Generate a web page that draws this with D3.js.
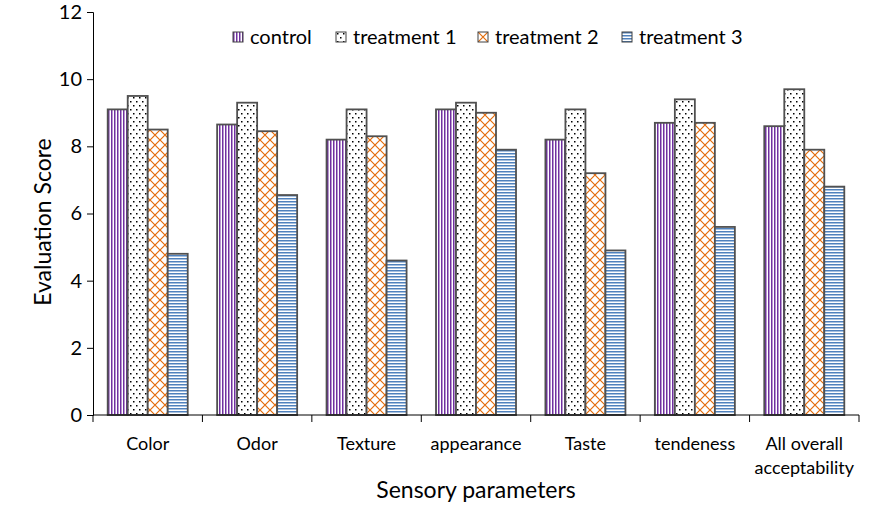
<!DOCTYPE html>
<html><head><meta charset="utf-8">
<script src="https://cdn.jsdelivr.net/npm/d3@7"></script>
<style>body{margin:0;background:#fff;} svg{display:block;} text{font-family:Lato,"Open Sans",sans-serif;fill:#000;}</style>
</head><body><svg id="c" width="885" height="519"></svg>
<script>
const categories = ["Color","Odor","Texture","appearance","Taste","tendeness","All overall acceptability"];
const seriesNames = ["control","treatment 1","treatment 2","treatment 3"];
const control = [9.1, 8.65, 8.2, 9.1, 8.2, 8.7, 8.6];
const treatment1 = [9.5, 9.3, 9.1, 9.3, 9.1, 9.4, 9.7];
const treatment2 = [8.5, 8.45, 8.3, 9.0, 7.2, 8.7, 7.9];
const treatment3 = [4.8, 6.55, 4.6, 7.9, 4.9, 5.6, 6.8];
const yTicks = [0,2,4,6,8,10,12];
const series = [control, treatment1, treatment2, treatment3];

const svg = d3.select("#c");
const defs = svg.append("defs");
// patterns
let p = defs.append("pattern").attr("id","p0").attr("patternUnits","userSpaceOnUse").attr("width",3).attr("height",3);
p.append("rect").attr("width",3).attr("height",3).attr("fill","#fff");
p.append("rect").attr("x",0).attr("width",1.5).attr("height",3).attr("fill","#7030A0");
p = defs.append("pattern").attr("id","p1").attr("patternUnits","userSpaceOnUse").attr("width",6).attr("height",8);
p.append("rect").attr("width",6).attr("height",8).attr("fill","#fff");
p.append("rect").attr("x",1).attr("y",1).attr("width",1.5).attr("height",1.5).attr("fill","#000");
p.append("rect").attr("x",4).attr("y",5).attr("width",1.5).attr("height",1.5).attr("fill","#000");
p = defs.append("pattern").attr("id","p2").attr("patternUnits","userSpaceOnUse").attr("width",10).attr("height",10);
p.append("rect").attr("width",10).attr("height",10).attr("fill","#fff");
p.append("path").attr("d","M0,0L10,10M10,0L0,10").attr("stroke","#E46C0A").attr("stroke-width",1.2);
p = defs.append("pattern").attr("id","p3").attr("patternUnits","userSpaceOnUse").attr("width",3).attr("height",3);
p.append("rect").attr("width",3).attr("height",3).attr("fill","#fff");
p.append("rect").attr("y",0).attr("width",3).attr("height",1.5).attr("fill","#4F81BD");

const mLeft = 93, mRight = 859, mTop = 12, mBottom = 415;
const x = d3.scaleBand().domain(categories).range([mLeft,mRight]).paddingInner(0).paddingOuter(0);
const xs = d3.scaleBand().domain(seriesNames).range([0, x.bandwidth()]).paddingOuter(0.735).paddingInner(0);
const y = d3.scaleLinear().domain([0,12]).range([mBottom,mTop]);

// bars
series.forEach((vals,si)=>{
  svg.append("g").selectAll("rect").data(vals).join("rect")
    .attr("x",(d,i)=>x(categories[i])+xs(seriesNames[si]))
    .attr("y",d=>y(d))
    .attr("width",xs.bandwidth())
    .attr("height",d=>y(0)-y(d))
    .attr("fill",`url(#p${si})`)
    .attr("stroke","#505050").attr("stroke-width",1.8);
});

// y axis
const ya = svg.append("g").attr("transform",`translate(${mLeft},0)`)
  .call(d3.axisLeft(y).tickValues(yTicks).tickSize(6).tickPadding(5));
ya.select(".domain").attr("stroke","#000");
ya.selectAll(".tick line").attr("stroke","#000");
ya.selectAll("text").style("font-size","20px").style("font-family","Lato, sans-serif").attr("fill","#000");

// x axis
svg.append("line").attr("x1",mLeft).attr("x2",mRight).attr("y1",mBottom).attr("y2",mBottom).attr("stroke","#000");
const bounds = categories.map(c=>x(c)).concat([mRight]);
svg.append("g").selectAll("line").data(bounds).join("line")
  .attr("x1",d=>d).attr("x2",d=>d).attr("y1",mBottom).attr("y2",mBottom+7).attr("stroke","#000");
const xl = svg.append("g").selectAll("text").data(categories).join("text")
  .attr("x",d=>x(d)+x.bandwidth()/2).attr("y",450).attr("text-anchor","middle").style("font-size","18px");
xl.each(function(d){
  const words = d === "All overall acceptability" ? ["All overall","acceptability"] : [d];
  words.forEach((w,i)=>d3.select(this).append("tspan").attr("x",x(d)+x.bandwidth()/2).attr("dy",i?24:0).text(w));
});

// axis titles
svg.append("text").attr("transform","translate(51,222) rotate(-90)").attr("text-anchor","middle").style("font-size","23px").text("Evaluation Score");
svg.append("text").attr("x",476).attr("y",498).attr("text-anchor","middle").style("font-size","23px").text("Sensory parameters");

// legend
const legX = [233, 336, 478, 622];
const lg = svg.append("g").selectAll("g").data(seriesNames).join("g").attr("transform",(d,i)=>`translate(${legX[i]},32)`);
lg.append("rect").attr("width",10).attr("height",10).attr("fill",(d,i)=>`url(#p${i})`).attr("stroke","#404040").attr("stroke-width",1);
lg.append("text").attr("x",17).attr("y",12).style("font-size","20px").text(d=>d);
</script></body></html>
